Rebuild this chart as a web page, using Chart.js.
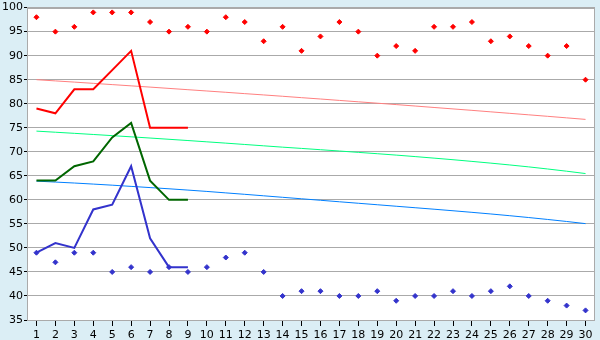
<!DOCTYPE html>
<html>
<head>
<meta charset="utf-8">
<script src="https://cdn.jsdelivr.net/npm/chart.js@4/dist/chart.umd.min.js"></script>
<style>
  html, body { margin: 0; padding: 0; background: #dbeef5; }
  #wrap { width: 600px; height: 340px; position: relative; }
</style>
</head>
<body>
<div id="wrap"><canvas id="chart" width="600" height="340"></canvas></div>
<script>
// categories (day numbers)
const days = [1,2,3,4,5,6,7,8,9,10,11,12,13,14,15,16,17,18,19,20,21,22,23,24,25,26,27,28,29,30];

// scattered markers
const redMarks  = [98,95,96,99,99,99,97,95,96,95,98,97,93,96,91,94,97,95,90,92,91,96,96,97,93,94,92,90,92,85];
const blueMarks = [49,47,49,49,45,46,45,46,45,46,48,49,45,40,41,41,40,40,41,39,40,40,41,40,41,42,40,39,38,37];

// short series (first 9 days)
const redLine   = [79,78,83,83,87,91,75,75,75];
const greenLine = [64,64,67,68,73,76,64,60,60];
const blueLine  = [49,51,50,58,59,67,52,46,46];

// thin trend curves
const redTrend   = [85.0,84.75,84.5,84.24,83.98,83.72,83.46,83.19,82.92,82.65,82.38,82.1,81.83,81.55,81.26,
                    80.98,80.69,80.4,80.11,79.82,79.52,79.22,78.92,78.62,78.31,78.0,77.69,77.38,77.06,76.74];
const greenTrend = [74.3,74.07,73.84,73.6,73.36,73.11,72.86,72.6,72.34,72.07,71.8,71.52,71.24,70.96,70.7,
                    70.43,70.16,69.88,69.6,69.31,69.0,68.68,68.35,68.0,67.64,67.26,66.86,66.42,65.96,65.47];
const blueTrend  = [63.9,63.7,63.5,63.28,63.05,62.8,62.55,62.3,62.03,61.75,61.45,61.15,60.84,60.53,60.22,
                    59.91,59.6,59.29,58.98,58.67,58.36,58.05,57.73,57.4,57.06,56.7,56.32,55.92,55.5,55.05];

// y axis
const yMin = 35, yMax = 100, yStep = 5;

// plot area white with grey frame
const plotBox = {
    id: 'plotBox',
    beforeDraw(chart) {
        const a = chart.chartArea, ctx = chart.ctx;
        ctx.save();
        ctx.fillStyle = '#ffffff';
        ctx.fillRect(a.left, a.top, a.right - a.left, a.bottom - a.top);
        ctx.restore();
    },
    afterDraw(chart) {
        const a = chart.ctx, c = chart.chartArea;
        a.save();
        a.strokeStyle = '#aaaaaa';
        a.lineWidth = 1;
        a.strokeRect(Math.round(c.left) + 0.5, Math.round(c.top) + 0.5,
                     Math.round(c.right - c.left) - 1, Math.round(c.bottom - c.top));
        a.restore();
    }
};

function marks(data, color) {
    return { data: data, showLine: false, borderColor: color, backgroundColor: color,
             pointStyle: 'rectRot', pointRadius: 2.5, pointBorderWidth: 1, pointHoverRadius: 2.5 };
}
function line(data, color, width) {
    return { data: data, borderColor: color, borderWidth: width, pointRadius: 0,
             tension: 0, fill: false };
}

new Chart(document.getElementById('chart'), {
    type: 'line',
    data: {
        labels: days,
        datasets: [
            marks(redMarks, '#ff0000'),
            marks(blueMarks, '#3333cc'),
            line(redLine, '#ff0000', 2),
            line(greenLine, '#006600', 2),
            line(blueLine, '#3333cc', 2),
            line(redTrend, '#ff8080', 1),
            line(greenTrend, '#00ff80', 1),
            line(blueTrend, '#0080ff', 1)
        ]
    },
    options: {
        responsive: false,
        animation: false,
        events: [],
        layout: { padding: { top: 5, right: 5, left: 0, bottom: 0 } },
        plugins: { legend: { display: false }, tooltip: { enabled: false } },
        scales: {
            x: {
                type: 'category',
                offset: true,
                grid: { offset: false, drawOnChartArea: false, drawTicks: true, tickLength: 6, color: '#000000' },
                border: { display: false },
                ticks: { color: '#000000', font: { family: 'DejaVu Sans', size: 11 }, padding: 3,
                         maxRotation: 0, autoSkip: false },
                afterFit(s) { s.height = 20; }
            },
            y: {
                min: yMin, max: yMax,
                grid: { color: '#aaaaaa', tickColor: '#000000', drawTicks: true, tickLength: 3 },
                border: { display: false },
                ticks: { stepSize: yStep, color: '#000000', font: { family: 'DejaVu Sans', size: 11 }, padding: 1 },
                afterFit(s) { s.width = 27; }
            }
        }
    },
    plugins: [plotBox]
});
</script>
</body>
</html>
